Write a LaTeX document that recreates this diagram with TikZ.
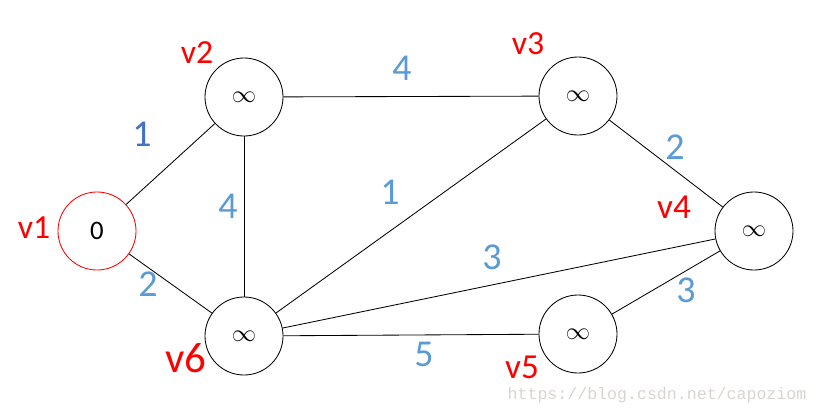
\documentclass[tikz,border=0pt]{standalone}
\usepackage{fontspec}
\setmainfont{Carlito}
\newfontfamily\markfont{Liberation Mono}
\definecolor{vred}{HTML}{FF0000}
\definecolor{wblue}{HTML}{5B9BD5}
\definecolor{wdark}{HTML}{4472C4}
\definecolor{wmark}{HTML}{D8D5D1}
\usetikzlibrary{positioning}

\begin{document}
\begin{tikzpicture}[x=0.025cm, y=-0.025cm,
    vertex/.style={circle, draw=black, line width=0.6pt, minimum size=1.95cm,
                   inner sep=0pt, fill=white, font=\fontsize{19}{19}\selectfont},
    vname/.style={text=vred, font=\fontsize{24}{24}\selectfont},
    weight/.style={text=wblue, font=\fontsize{27}{27}\selectfont},
    edge/.style={line width=0.6pt}]

  \useasboundingbox (0,0) rectangle (818,416);

  % Vertices
  \node[vertex, draw=vred] (v1) at (97,231) {\fontsize{19}{19}\selectfont 0};
  \node[vertex] (v2) at (244,97)  {$\infty$};
  \node[vertex] (v3) at (578,96)  {$\infty$};
  \node[vertex] (v4) at (754,231) {$\infty$};
  \node[vertex] (v5) at (578,334) {$\infty$};
  \node[vertex] (v6) at (244,336) {$\infty$};

  % Vertex names
  \node[vname] (n1) at (34,228)  {v1};
  \node[vname] (n2) at (197,53)  {v2};
  \node[vname] (n3) at (528,44)  {v3};
  \node[vname, font=\fontsize{25}{25}\selectfont] (n4) at (674,207) {v4};
  \node[vname, font=\fontsize{25}{25}\selectfont] (n5) at (522,367) {v5};
  \node[vname, font=\fontsize{30.5}{30.5}\selectfont] (n6) at (186,358) {v6};

  % Edges
  \draw[edge] (v1) -- (v2);
  \draw[edge] (v1) -- (v6);
  \draw[edge] (v2) -- (v6);
  \draw[edge] (v2) -- (v3);
  \draw[edge] (v3) -- (v6);
  \draw[edge] (v3) -- (v4);
  \draw[edge] (v6) -- (v4);
  \draw[edge] (v6) -- (v5);
  \draw[edge] (v5) -- (v4);

  % Weights
  \node[weight, text=wdark] (w12) at (142,134) {1};
  \node[weight] (w16) at (148,284) {2};
  \node[weight] (w26) at (228,206) {4};
  \node[weight] (w23) at (402,68)  {4};
  \node[weight] (w36) at (390,192) {1};
  \node[weight] (w34) at (675,147) {2};
  \node[weight] (w64) at (492,257) {3};
  \node[weight] (w54) at (686,290) {3};
  \node[weight] (w65) at (424,354) {5};

  % Watermark
  \node[text=wmark, font=\markfont\fontsize{11.8}{11.8}\selectfont] (wm) at (657,395)
    {https://blog.csdn.net/capoziom};
\end{tikzpicture}
\end{document}
